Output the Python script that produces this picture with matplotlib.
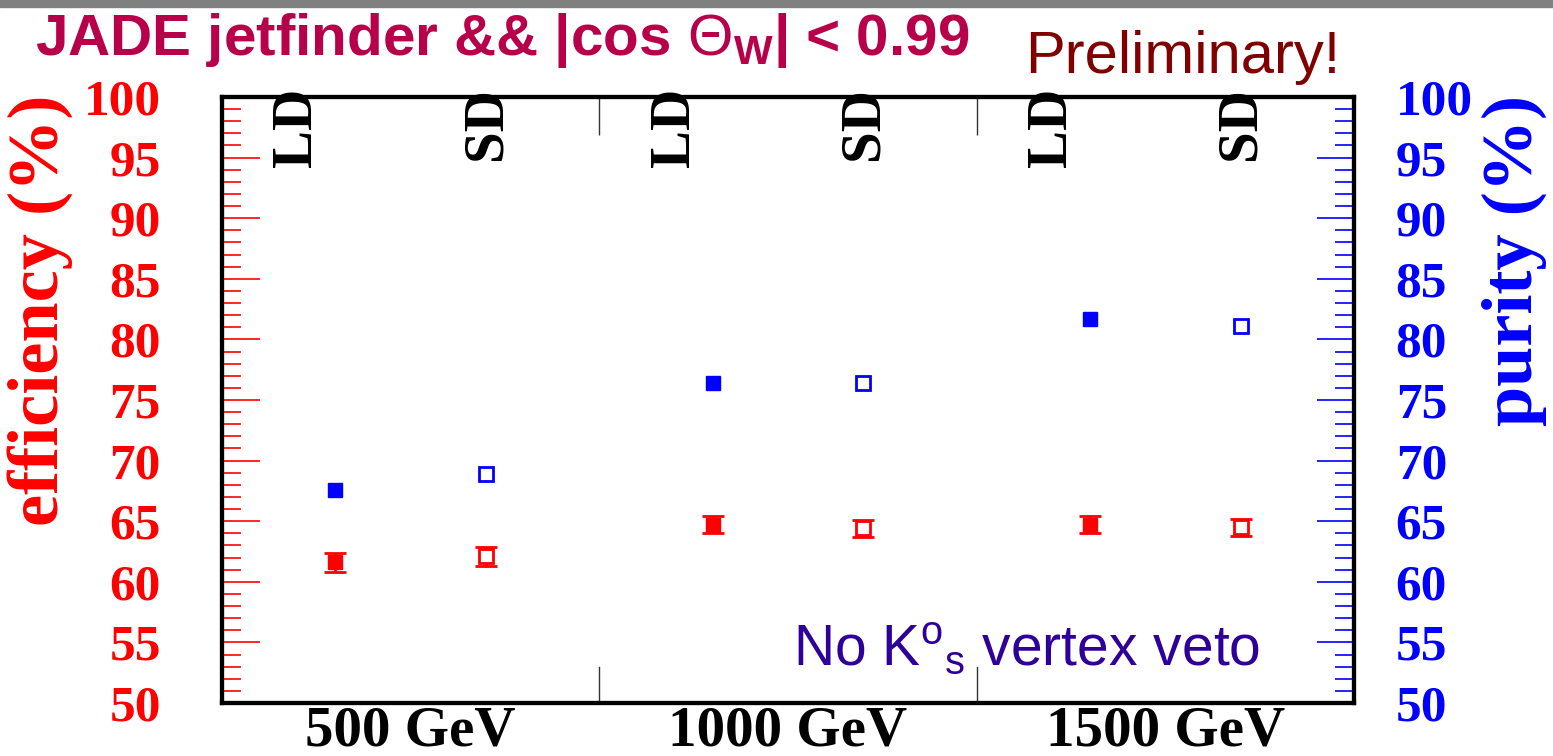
import numpy as np
import matplotlib
matplotlib.use("Agg")
import matplotlib.pyplot as plt
from matplotlib.patches import Rectangle
from matplotlib.ticker import MultipleLocator, FixedLocator

plt.rcParams['mathtext.fontset'] = 'custom'
plt.rcParams['mathtext.rm'] = 'Liberation Sans'
plt.rcParams['mathtext.it'] = 'Liberation Sans:italic'
plt.rcParams['mathtext.bf'] = 'Liberation Sans:bold'

# data
energies = ["500 GeV", "1000 GeV", "1500 GeV"]
detectors = ["LD", "SD"]
eff_ld = [61.6, 64.7, 64.7]
eff_sd = [62.1, 64.4, 64.5]
eff_err = [0.8, 0.7, 0.7]
pur_ld = [67.6, 76.4, 81.7]
pur_sd = [68.9, 76.4, 81.1]
pur_err = [0.3, 0.2, 0.2]

serif = "Liberation Serif"
red = "#ff0000"
blue = "#0000ff"

fig = plt.figure(figsize=(15.53, 7.56), dpi=100)
ax = fig.add_axes([222/1553, 1-703/756, (1354-222)/1553, (703-97)/756])
ax2 = ax.twinx()

idx = np.arange(len(energies))
x_ld = 2*idx + 1 - 0.4
x_sd = 2*idx + 1 + 0.4

# efficiency (red)
ax.errorbar(x_ld, eff_ld, yerr=eff_err, fmt='s', color=red, ms=10.5, mec=red, mfc=red,
            capsize=8, elinewidth=2, capthick=2)
ax.errorbar(x_sd, eff_sd, yerr=eff_err, fmt='s', color=red, ms=10.5, mec=red, mfc='white',
            mew=2, capsize=8, elinewidth=2, capthick=2)
# purity (blue)
ax2.errorbar(x_ld, pur_ld, yerr=pur_err, fmt='s', color=blue, ms=10, mec=blue, mfc=blue,
             capsize=0, elinewidth=2)
ax2.errorbar(x_sd, pur_sd, yerr=pur_err, fmt='s', color=blue, ms=10, mec=blue, mfc='white',
             mew=2, capsize=0, elinewidth=2)

for a in (ax, ax2):
    a.set_xlim(0, 6)
    a.set_ylim(50, 100)
    for s in a.spines.values():
        s.set_linewidth(3)
        s.set_color('black')

# left axis
ax.yaxis.set_major_locator(MultipleLocator(5))
ax.yaxis.set_minor_locator(MultipleLocator(1))
ax.tick_params(axis='y', which='major', direction='in', length=27, width=1.2, color=red,
               labelcolor=red, labelsize=37, pad=44)
ax.tick_params(axis='y', which='minor', direction='in', length=14, width=1.2, color=red)
for lb in ax.get_yticklabels():
    lb.set_fontfamily(serif)
    lb.set_fontweight('bold')
ax.set_ylabel("efficiency (%)", color=red, fontsize=52, fontfamily=serif,
              fontweight='bold')
ax.yaxis.set_label_coords(-0.132, 0.648)

# right axis
ax2.yaxis.set_major_locator(MultipleLocator(5))
ax2.yaxis.set_minor_locator(MultipleLocator(1))
ax2.tick_params(axis='y', which='major', direction='in', length=27, width=1.2, color=blue,
                labelcolor=blue, labelsize=37, pad=30)
ax2.tick_params(axis='y', which='minor', direction='in', length=14, width=1.2, color=blue)
for lb in ax2.get_yticklabels():
    lb.set_fontfamily(serif)
    lb.set_fontweight('bold')
ax2.set_ylabel("purity (%)", color=blue, fontsize=52, fontfamily=serif,
               fontweight='bold')
ax2.yaxis.set_label_coords(1.113, 0.731)

# x axis: energy labels at bin boundaries, ticks top and bottom
ax.set_xticks(2*idx + 1)
ax.set_xticklabels(energies, fontfamily=serif, fontweight='bold', fontsize=41)
ax.tick_params(axis='x', which='major', length=0, pad=2)
ax.xaxis.set_minor_locator(FixedLocator([1, 2, 3, 4, 5]))
ax.tick_params(axis='x', which='minor', direction='in', length=27, width=1, top=True,
               bottom=False, color='#333333')
ax2.tick_params(axis='x', which='both', length=0)
for k in (2, 4):
    ax.plot([k, k], [0, 0.06], transform=ax.get_xaxis_transform(), color='#333333',
            lw=1, clip_on=False)

# LD / SD labels along the top
trans = ax.get_xaxis_transform()
for i in idx:
    ax.text(2*i + 0.4, 1.016, detectors[0], transform=trans, rotation=90, ha='center',
            va='top', fontsize=41, fontfamily=serif, fontweight='bold', color='black')
    ax.text(2*i + 1.4, 1.016, detectors[1], transform=trans, rotation=90, ha='center',
            va='top', fontsize=41, fontfamily=serif, fontweight='bold', color='black')

# texts
fig.patches.append(Rectangle((0, 1-7/756), 1, 7/756, transform=fig.transFigure,
                             color='#808080', zorder=0))
fig.text(35/1553, 1-55/756, r"JADE jetfinder && |cos $\Theta_{\mathbf{W}}$| < 0.99",
         color='#b8004a', fontsize=42, fontfamily='Liberation Sans', fontweight='bold',
         va='baseline', ha='left')
fig.text(1025/1553, 1-73/756, "Preliminary!", color='#800000', fontsize=43,
         fontfamily='Liberation Sans', va='baseline', ha='left')
fig.text(793/1553, 1-665/756, r"No K$^{\mathrm{o}}{}_{\mathrm{s}}$ vertex veto",
         color='#2e0099', fontsize=41, fontfamily='Liberation Sans', va='baseline',
         ha='left')

fig.savefig("out.png", dpi=100)
